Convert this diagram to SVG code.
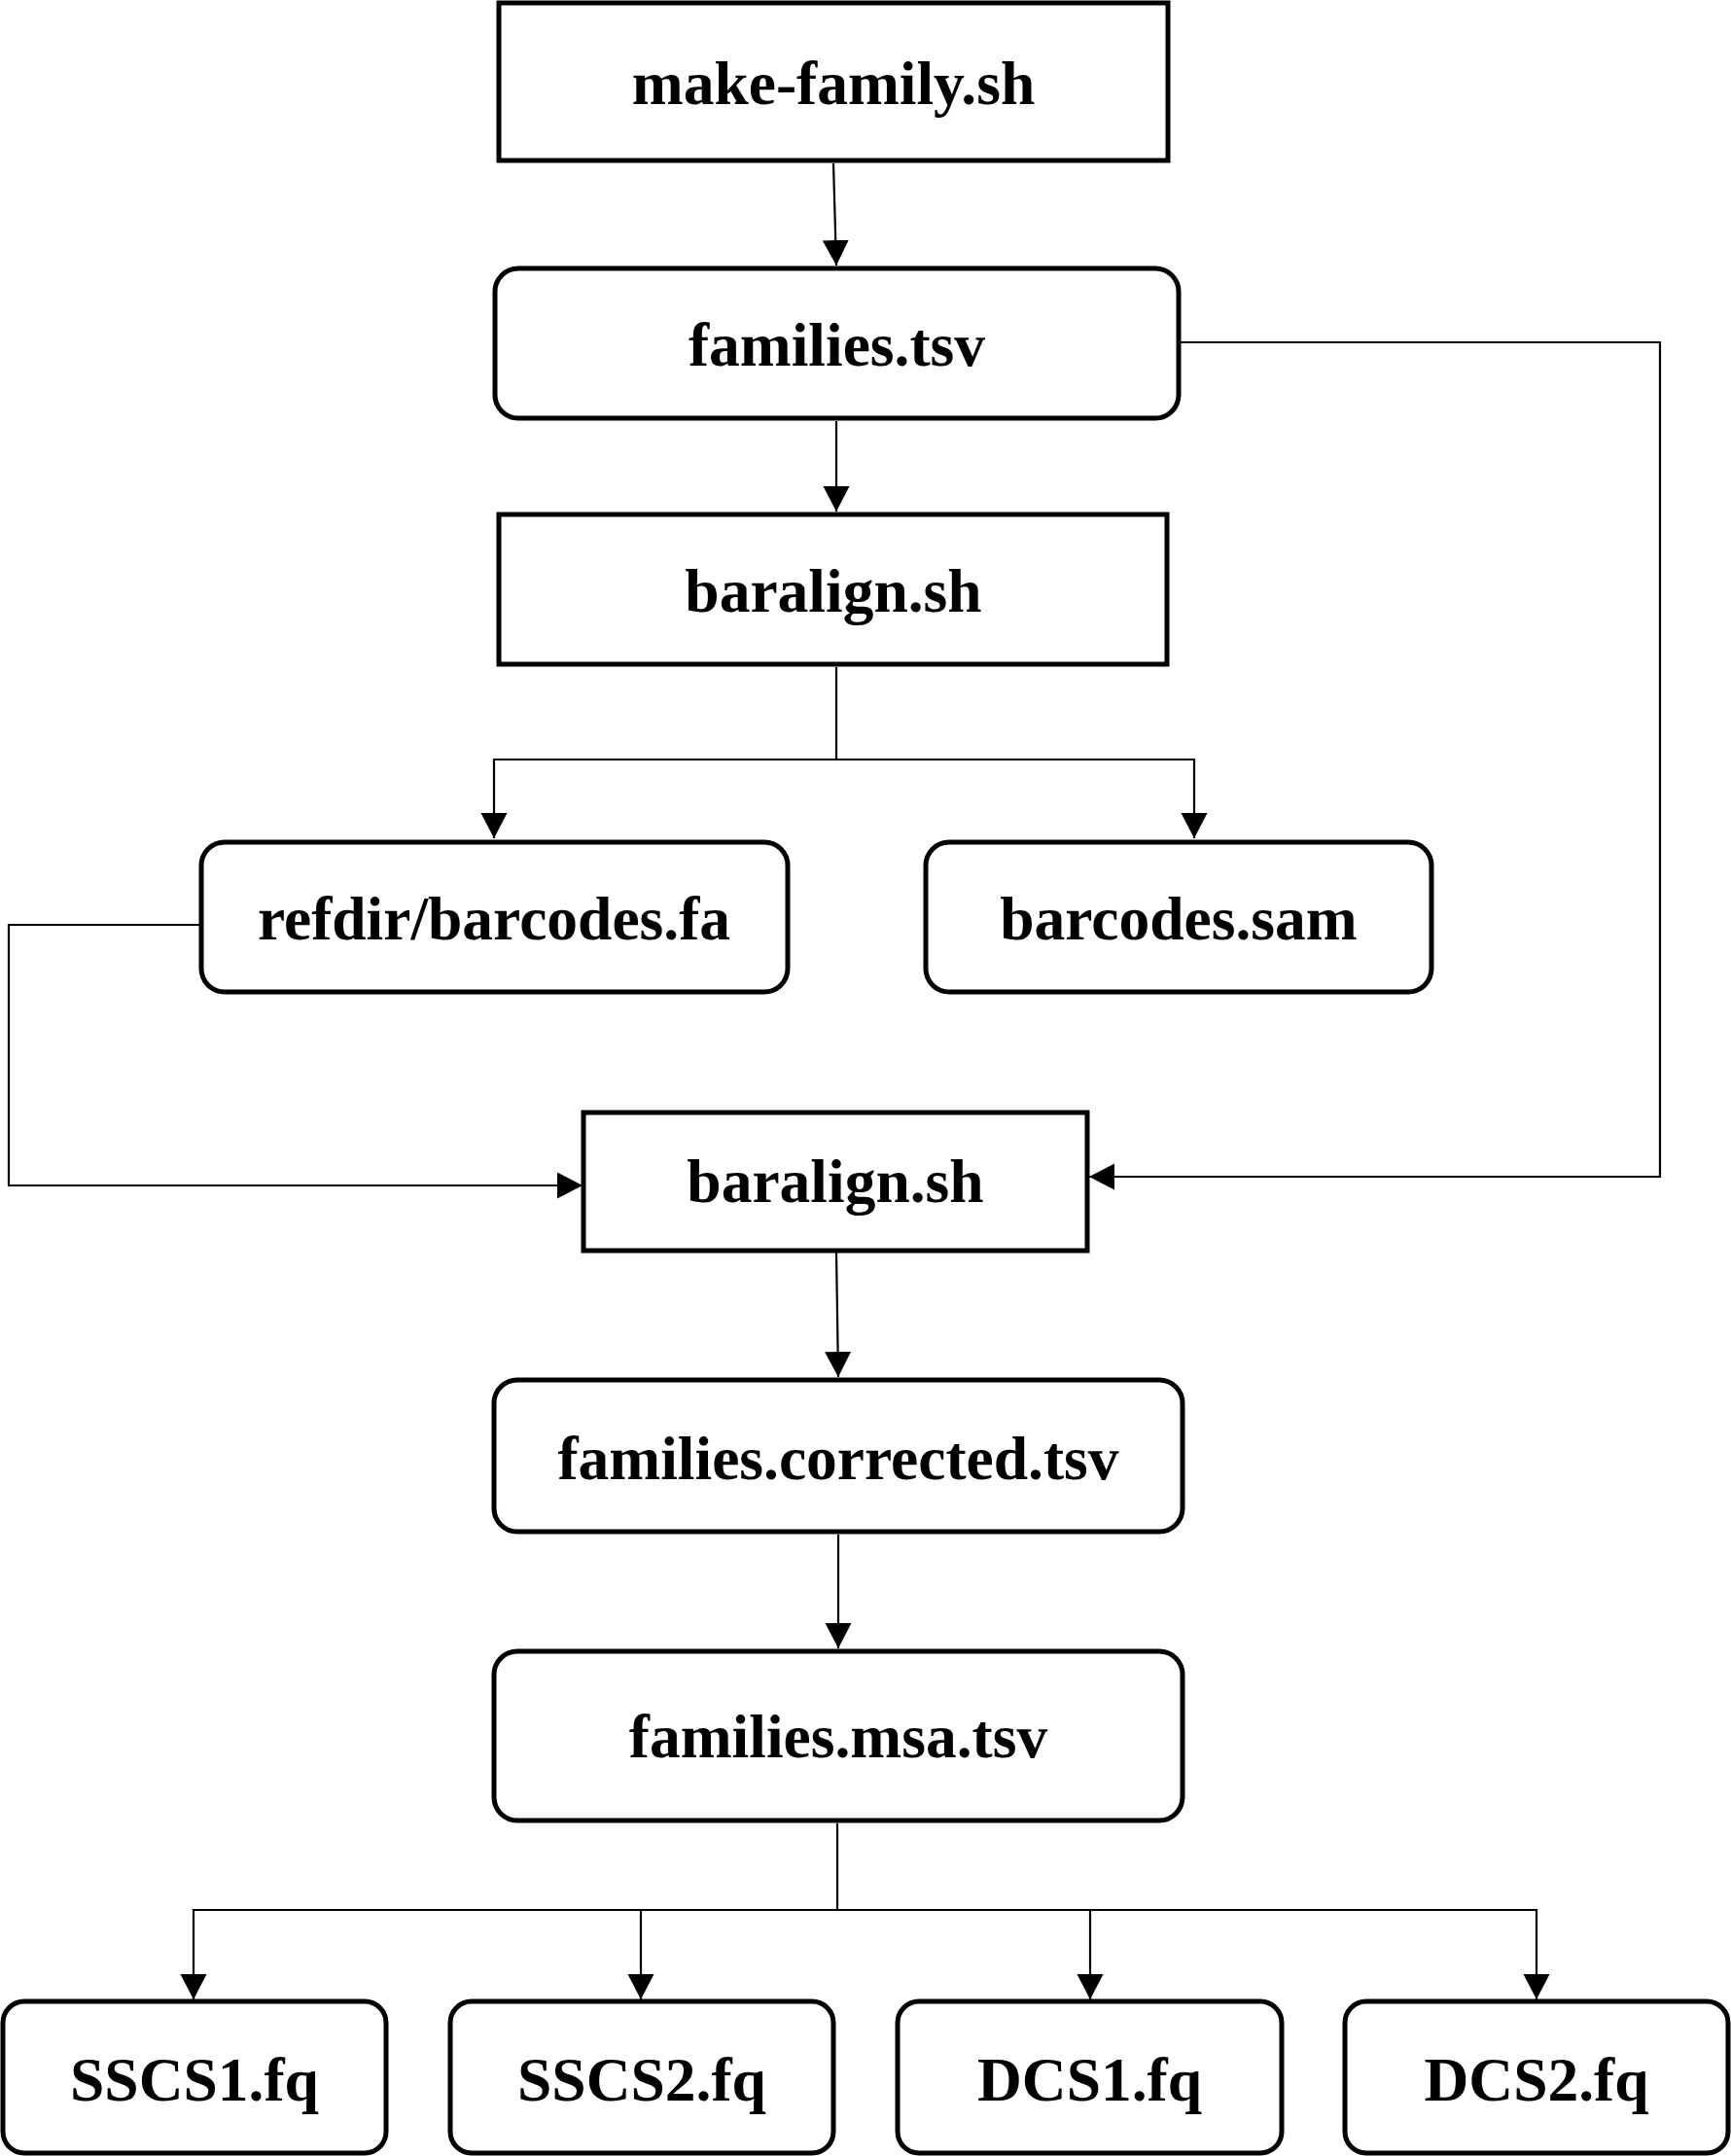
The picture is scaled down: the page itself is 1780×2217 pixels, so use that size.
<svg xmlns="http://www.w3.org/2000/svg" width="1780" height="2217" viewBox="0 0 1780 2217">
<style>
.box{fill:#fff;stroke:#000;stroke-width:5}
.lbl{font-family:"Liberation Serif","Times New Roman",serif;font-weight:bold;font-size:63.5px;fill:#000;text-anchor:middle}
.con{fill:none;stroke:#000;stroke-width:2.2}
</style>
<defs>
<marker id="arr" markerUnits="userSpaceOnUse" markerWidth="28" markerHeight="28" refX="26" refY="13.5" orient="auto">
<path d="M0,0 L26,13.5 L0,27 Z" fill="#000"/>
</marker>
</defs>
<rect width="1780" height="2217" fill="#fff"/>
<g id="connectors">
<polyline class="con" points="857,168 860,273" marker-end="url(#arr)"/>
<polyline class="con" points="860,433 860,526" marker-end="url(#arr)"/>
<polyline class="con" points="860,686 860,781"/>
<polyline class="con" points="860,781 508,781 508,862" marker-end="url(#arr)"/>
<polyline class="con" points="860,781 1228,781 1228,862" marker-end="url(#arr)"/>
<polyline class="con" points="207,951 9,951 9,1219 599,1219" marker-end="url(#arr)"/>
<polyline class="con" points="1212,352 1707,352 1707,1210 1120,1210" marker-end="url(#arr)"/>
<polyline class="con" points="860,1288 862,1416" marker-end="url(#arr)"/>
<polyline class="con" points="862,1578 862,1695" marker-end="url(#arr)"/>
<polyline class="con" points="861,1875 861,1964"/>
<polyline class="con" points="861,1964 199,1964 199,2056" marker-end="url(#arr)"/>
<polyline class="con" points="861,1964 659,1964 659,2056" marker-end="url(#arr)"/>
<polyline class="con" points="861,1964 1121,1964 1121,2056" marker-end="url(#arr)"/>
<polyline class="con" points="861,1964 1580,1964 1580,2056" marker-end="url(#arr)"/>
</g>
<g id="make-family">
<rect class="box" x="513" y="3" width="688" height="162"/>
<text class="lbl" x="857" y="107">make-family.sh</text>
</g>
<g id="families-tsv">
<rect class="box" x="509" y="276" width="703" height="154" rx="24"/>
<text class="lbl" x="860.5" y="376">families.tsv</text>
</g>
<g id="baralign-1">
<rect class="box" x="513" y="529" width="687" height="154"/>
<text class="lbl" x="857" y="629">baralign.sh</text>
</g>
<g id="refdir-barcodes-fa">
<rect class="box" x="207" y="866" width="603" height="154" rx="24"/>
<text class="lbl" x="508" y="966">refdir/barcodes.fa</text>
</g>
<g id="barcodes-sam">
<rect class="box" x="952" y="866" width="520" height="154" rx="24"/>
<text class="lbl" x="1212" y="966">barcodes.sam</text>
</g>
<g id="baralign-2">
<rect class="box" x="600" y="1144" width="518" height="142"/>
<text class="lbl" x="859" y="1236">baralign.sh</text>
</g>
<g id="families-corrected">
<rect class="box" x="508" y="1419" width="708" height="156" rx="24"/>
<text class="lbl" x="862" y="1521">families.corrected.tsv</text>
</g>
<g id="families-msa">
<rect class="box" x="508" y="1698" width="708" height="174" rx="24"/>
<text class="lbl" x="862" y="1807">families.msa.tsv</text>
</g>
<g id="sscs1">
<rect class="box" x="3" y="2058" width="394" height="156" rx="22"/>
<text class="lbl" x="200" y="2160">SSCS1.fq</text>
</g>
<g id="sscs2">
<rect class="box" x="463" y="2058" width="394" height="156" rx="22"/>
<text class="lbl" x="660" y="2160">SSCS2.fq</text>
</g>
<g id="dcs1">
<rect class="box" x="923" y="2058" width="395" height="156" rx="22"/>
<text class="lbl" x="1120.5" y="2160">DCS1.fq</text>
</g>
<g id="dcs2">
<rect class="box" x="1383" y="2058" width="394" height="156" rx="22"/>
<text class="lbl" x="1580" y="2160">DCS2.fq</text>
</g>
</svg>
